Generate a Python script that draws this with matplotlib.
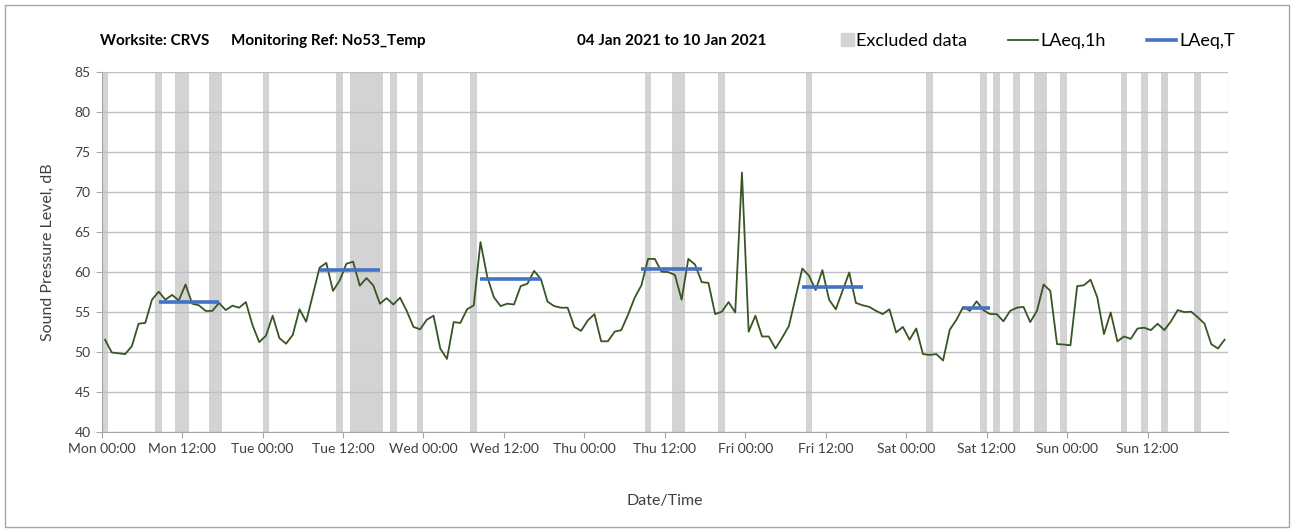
import numpy as np
import matplotlib.pyplot as plt
from matplotlib.patches import Patch, Rectangle
from matplotlib.lines import Line2D
from matplotlib.legend_handler import HandlerPatch

plt.rcParams['font.family'] = ['Lato', 'DejaVu Sans']

# hourly LAeq,1h values, Mon 00:00 .. Sun 23:00
laeq_1h = [
    51.5, 49.9, 49.8, 49.7, 50.7, 53.5, 53.6, 56.5, 57.5, 56.5, 57.1, 56.4,
    58.4, 56.0, 55.8, 55.1, 55.1, 56.1, 55.2, 55.75, 55.5, 56.2, 53.3, 51.2,
    52.0, 54.5, 51.7, 51.0, 52.1, 55.3, 53.75, 57.1, 60.5, 61.1, 57.6, 58.9,
    61.0, 61.25, 58.25, 59.2, 58.3, 56.0, 56.7, 55.9, 56.75, 55.1, 53.1, 52.8,
    54.0, 54.5, 50.4, 49.1, 53.7, 53.6, 55.3, 55.8, 63.7, 59.4, 56.8, 55.7,
    56.0, 55.9, 58.2, 58.5, 60.1, 59.1, 56.25, 55.7, 55.5, 55.5, 53.1, 52.6,
    53.9, 54.7, 51.3, 51.3, 52.5, 52.7, 54.6, 56.75, 58.3, 61.6, 61.6, 60.0,
    59.95, 59.6, 56.5, 61.6, 60.9, 58.7, 58.6, 54.7, 55.0, 56.2, 54.9, 72.4,
    52.5, 54.5, 51.9, 51.9, 50.4, 51.75, 53.2, 56.8, 60.4, 59.5, 57.7, 60.2,
    56.5, 55.3, 57.6, 59.9, 56.1, 55.8, 55.6, 55.1, 54.7, 55.3, 52.4, 53.1,
    51.5, 52.9, 49.7, 49.6, 49.7, 48.9, 52.75, 54.0, 55.6, 55.1, 56.3, 55.2,
    54.7, 54.7, 53.8, 55.1, 55.5, 55.6, 53.7, 55.1, 58.4, 57.6, 50.95, 50.9,
    50.8, 58.2, 58.3, 59.0, 56.8, 52.2, 54.9, 51.3, 51.9, 51.6, 52.9, 53.0,
    52.7, 53.5, 52.7, 53.8, 55.2, 54.95, 55.0, 54.3, 53.5, 50.95, 50.4, 51.5,
]

# hours (from Mon 00:00) flagged as excluded
excluded_hours = [0, 8, 11, 12, 16, 17, 24, 35, 37, 38, 39, 40, 41, 43, 47, 55,
                  81, 85, 86, 92, 105, 123, 131, 133, 136, 139, 140, 143,
                  152, 155, 158, 163]

# LAeq,T over the working periods: first hour, last hour, level
period_start = [8, 32, 56, 80, 104, 128]
period_end = [17, 41, 65, 89, 113, 132]
period_level = [56.2, 60.2, 59.05, 60.35, 58.15, 55.5]

tick_labels = ['Mon 00:00', 'Mon 12:00', 'Tue 00:00', 'Tue 12:00', 'Wed 00:00',
               'Wed 12:00', 'Thu 00:00', 'Thu 12:00', 'Fri 00:00', 'Fri 12:00',
               'Sat 00:00', 'Sat 12:00', 'Sun 00:00', 'Sun 12:00']

hours = np.arange(len(laeq_1h)) + 0.5

fig = plt.figure(figsize=(12.95, 5.31), dpi=100)
ax = fig.add_axes([101.7 / 1295, 1 - 431.7 / 531, 1126.3 / 1295, 360 / 531])

# excluded data bands
ax.bar(np.array(excluded_hours) + 0.5, 45, bottom=40, width=1.0,
       color='#d3d3d3', linewidth=0, zorder=1)

# hourly levels and period levels
ax.plot(hours, laeq_1h, color='#375623', lw=1.3, zorder=3)
ax.hlines(period_level, np.array(period_start) + 0.5, np.array(period_end) + 0.5,
          color='#4472c4', lw=2.6, zorder=4)

ax.set_xlim(0, 168)
ax.set_ylim(40, 85)
ax.set_yticks(np.arange(40, 86, 5))
ax.set_xticks(np.arange(0, 168, 12))
ax.set_xticklabels(tick_labels)
ax.set_xticks(np.arange(0, 169, 24), minor=True)
ax.tick_params(axis='x', which='minor', length=0)
ax.tick_params(axis='both', which='major', length=4, color='#a6a6a6',
               labelsize=10, labelcolor='#404040', pad=4)

ax.set_axisbelow(False)
ax.grid(axis='y', color='#bfbfbf', lw=1, zorder=2)
ax.grid(axis='x', which='minor', color='#e3e3e3', lw=1, zorder=2)
for s in ['top', 'right']:
    ax.spines[s].set_visible(False)
for s in ['left', 'bottom']:
    ax.spines[s].set_color('#a6a6a6')

ax.set_ylabel('Sound Pressure Level, dB', fontsize=11.5, color='#404040', labelpad=14)
ax.set_xlabel('Date/Time', fontsize=11.5, color='#404040', labelpad=28)

# title parts
fig.text(100 / 1295, 1 - 41 / 531, 'Worksite: CRVS', fontsize=11, weight='bold', va='center')
fig.text(231 / 1295, 1 - 41 / 531, 'Monitoring Ref: No53_Temp', fontsize=11, weight='bold', va='center')
fig.text(577 / 1295, 1 - 41 / 531, '04 Jan 2021 to 10 Jan 2021', fontsize=11, weight='bold', va='center')


def small_square(legend, orig_handle, xdescent, ydescent, width, height, fontsize):
    side = height * 1.05
    return Rectangle((width - side - xdescent, -ydescent), side, height)


handles = [Patch(color='#d3d3d3'),
           Line2D([], [], color='#375623', lw=1.3),
           Line2D([], [], color='#4472c4', lw=2.6)]
fig.legend(handles, ['Excluded data', 'LAeq,1h', 'LAeq,T'], ncol=3,
           loc='center left', bbox_to_anchor=(824 / 1295, 1 - 41 / 531),
           frameon=False, fontsize=13, handlelength=1.65, handletextpad=0.15,
           columnspacing=2.25, borderaxespad=0, borderpad=0,
           handler_map={Patch: HandlerPatch(patch_func=small_square)})

fig.patches.append(Rectangle((5 / 1295, 4 / 531), 1284 / 1295, 522 / 531,
                             transform=fig.transFigure, fill=False,
                             edgecolor='#a6a6a6', lw=1))

fig.savefig('out.png', dpi=100)
